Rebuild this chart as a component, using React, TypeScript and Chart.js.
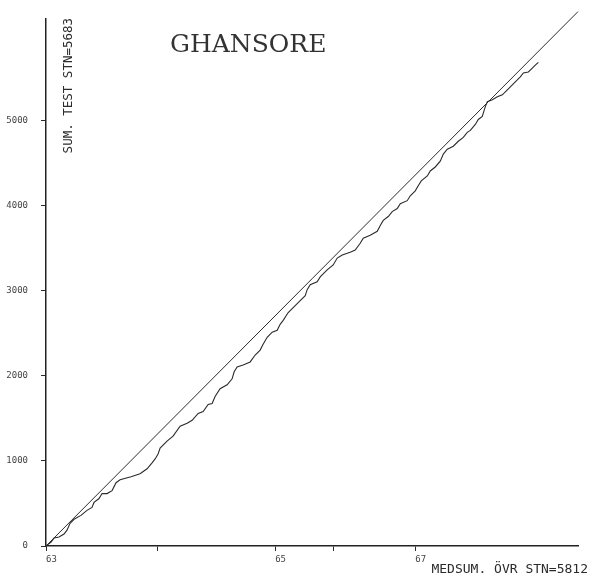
import { useEffect, useRef } from 'react';
import { Chart, registerables } from 'chart.js';

Chart.register(...registerables);

// Double mass curve for the station
const stationName = 'GHANSORE';
const xAxisTitle = 'MEDSUM. ÖVR STN=5812';
const yAxisTitle = 'SUM. TEST STN=5683';

// Cumulative sum of the surrounding stations (x) and of the test station (y)
const cumBase = [
  0, 59, 95, 154, 213, 248, 284, 331, 413, 484, 543, 567, 626, 662, 721, 780, 827, 874,
  1004, 1110, 1193, 1252, 1288, 1323, 1347, 1429, 1500, 1583, 1666, 1725, 1796, 1855,
  1914, 1961, 1996, 2055, 2138, 2197, 2221, 2256, 2327, 2410, 2469, 2528, 2563, 2611,
  2670, 2729, 2764, 2800, 2859, 2918, 2977, 3060, 3083, 3119, 3201, 3237, 3319, 3390,
  3438, 3497, 3591, 3650, 3709, 3745, 3827, 3910, 3946, 3981, 4040, 4087, 4146, 4182,
  4264, 4300, 4359, 4394, 4430, 4501, 4536, 4595, 4654, 4690, 4737, 4808, 4867, 4926,
  4973, 5009, 5068, 5103, 5150, 5186, 5210, 5269, 5328, 5387, 5446, 5505, 5540, 5599,
  5635, 5694, 5741, 5776, 5812,
];
const cumTest = [
  0, 47, 93, 105, 140, 186, 267, 314, 360, 419, 453, 512, 558, 616, 616, 651, 744, 779,
  814, 849, 907, 977, 1023, 1081, 1151, 1233, 1291, 1407, 1442, 1477, 1558, 1581,
  1663, 1674, 1756, 1849, 1895, 1965, 2047, 2105, 2128, 2163, 2244, 2302, 2372, 2453,
  2512, 2535, 2605, 2651, 2744, 2802, 2861, 2942, 3012, 3070, 3105, 3163, 3244, 3302,
  3384, 3419, 3453, 3477, 3558, 3616, 3651, 3698, 3767, 3826, 3872, 3930, 3965, 4023,
  4058, 4116, 4174, 4233, 4291, 4349, 4407, 4454, 4523, 4605, 4663, 4698, 4756, 4802,
  4861, 4884, 4954, 5012, 5047, 5163, 5221, 5244, 5279, 5302, 5361, 5419, 5454, 5512,
  5558, 5570, 5616, 5651, 5683,
];

// 1:1 reference line end points
const equalLine = [0, 6280];

// Year boundaries along the x axis
const yearTickValues = [0, 1311, 2705, 3390, 4359];
const yearTickLabels = ['63', '', '65', '', '67'];

// Left axis ticks
const yTickValues = [0, 1000, 2000, 3000, 4000, 5000];

const xMax = 6280;
const yMax = 6200;

const ink = '#2b2b2b';

const plotTexts = {
  id: 'plotTexts',
  afterDraw(chart: any) {
    const { ctx, chartArea } = chart;
    ctx.save();
    ctx.fillStyle = '#333';

    ctx.font = '25px "DejaVu Serif"';
    ctx.textAlign = 'left';
    ctx.textBaseline = 'alphabetic';
    ctx.fillText(stationName, chartArea.left + 124, chartArea.top + 34);

    ctx.fillStyle = ink;
    ctx.font = '12.5px "DejaVu Sans Mono"';
    ctx.save();
    ctx.translate(chartArea.left + 23, chartArea.top + 135);
    ctx.rotate(-Math.PI / 2);
    ctx.textAlign = 'left';
    ctx.textBaseline = 'middle';
    ctx.fillText(yAxisTitle, 0, 0);
    ctx.restore();

    ctx.font = '13px "DejaVu Sans Mono"';
    ctx.textAlign = 'right';
    ctx.textBaseline = 'alphabetic';
    ctx.fillText(xAxisTitle, chart.width - 5, chartArea.bottom + 27);
    ctx.restore();
  },
};

export default function App() {
  const canvasRef = useRef<HTMLCanvasElement | null>(null);

  useEffect(() => {
    const canvas = canvasRef.current;
    if (!canvas) return;

    const curve = cumBase.map((x, i) => ({ x, y: cumTest[i] }));
    const diagonal = equalLine.map((v) => ({ x: v, y: v }));

    const chart = new Chart(canvas, {
      type: 'scatter',
      data: {
        datasets: [
          {
            data: diagonal,
            showLine: true,
            borderColor: ink,
            borderWidth: 1,
            pointRadius: 0,
            clip: false,
          },
          {
            data: curve,
            showLine: true,
            borderColor: ink,
            borderWidth: 1.1,
            pointRadius: 0,
            tension: 0,
          },
        ],
      },
      options: {
        responsive: false,
        animation: false,
        events: [],
        layout: { padding: { top: 13, right: 15, left: 0, bottom: 0 } },
        plugins: {
          legend: { display: false },
          tooltip: { enabled: false },
          title: { display: false },
        },
        scales: {
          x: {
            type: 'linear',
            min: 0,
            max: xMax,
            afterBuildTicks: (scale: any) => {
              scale.ticks = yearTickValues.map((value) => ({ value }));
            },
            afterFit: (scale: any) => {
              scale.height = 33;
            },
            ticks: {
              autoSkip: false,
              maxRotation: 0,
              align: 'start',
              padding: 3,
              color: '#444',
              font: { family: '"DejaVu Sans Mono"', size: 9 },
              callback: (_v: any, i: number) => yearTickLabels[i],
            },
            grid: {
              drawOnChartArea: false,
              drawTicks: true,
              tickLength: 5,
              color: ink,
            },
            border: { display: true, color: '#222', width: 1.5 },
          },
          y: {
            type: 'linear',
            min: 0,
            max: yMax,
            afterBuildTicks: (scale: any) => {
              scale.ticks = yTickValues.map((value) => ({ value }));
            },
            afterFit: (scale: any) => {
              scale.width = 46;
            },
            ticks: {
              autoSkip: false,
              padding: 13,
              color: '#444',
              font: { family: '"DejaVu Sans Mono"', size: 9 },
              callback: (v: any) => String(v),
            },
            grid: {
              drawOnChartArea: false,
              drawTicks: true,
              tickLength: 5,
              color: ink,
            },
            border: { display: true, color: '#222', width: 1.5 },
          },
        },
      },
      plugins: [plotTexts],
    } as any);

    return () => chart.destroy();
  }, []);

  return (
    <div style={{ position: 'absolute', left: 0, top: 0, width: 593, height: 579, background: '#fff' }}>
      <canvas ref={canvasRef} width={593} height={579} style={{ display: 'block' }} />
    </div>
  );
}
